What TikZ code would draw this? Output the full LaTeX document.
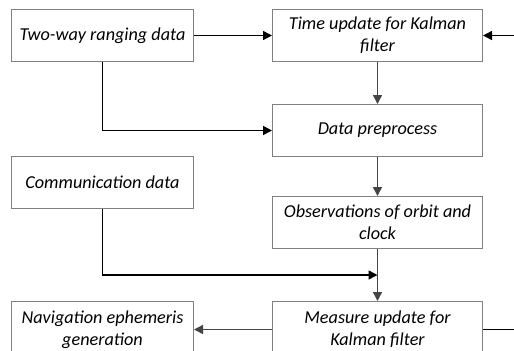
\documentclass[tikz,border=0pt]{standalone}
\usepackage{fontspec}
\setmainfont{Carlito}
\usepackage{tikz}
\usetikzlibrary{arrows.meta, positioning, calc}
\definecolor{boxgrey}{gray}{0.5}
\definecolor{flowgrey}{gray}{0.27}
\tikzstyle{block} = [rectangle, draw=boxgrey, line width=0.5pt, minimum height=26pt, inner sep=2pt, align=center, font=\itshape\fontsize{9.1}{11}\selectfont]
\tikzstyle{src} = [block, minimum width=91pt]
\tikzstyle{stage} = [block, minimum width=105pt]
\tikzstyle{aro} = [-{Triangle[length=4.5pt,width=4.5pt]}, line width=0.75pt]
\tikzstyle{garo} = [aro, draw=flowgrey, color=flowgrey]

\begin{document}
\begin{tikzpicture}
  \clip (0,0) rectangle (257pt,-175pt);
  \useasboundingbox (0,0) rectangle (257pt,-175pt);

  \node (twoway) [src, anchor=north west] at (5.5pt,-4.5pt) {Two-way ranging data};
  \node (tupd) [stage, right=39pt of twoway] {Time update for Kalman\\filter};
  \node (prep) [stage, below=21pt of tupd] {Data preprocess};
  \node (obs) [stage, below=19.5pt of prep] {Observations of orbit and\\clock};
  \node (mupd) [stage, below=26pt of obs, minimum height=28pt, anchor=north] {Measure update for\\Kalman filter};

  \node (comm) [src, below=47pt of twoway] {Communication data};
  \node (nav) [src, left=39pt of mupd, minimum height=28pt] {Navigation ephemeris\\generation};

  \coordinate (join) at ($(obs.south)!0.5!(mupd.north)$);

  % ranging data feeds both stages
  \draw [aro] (twoway) -- (tupd);
  \draw [aro] (twoway.south) |- (prep.west);
  \draw [aro] (comm.south) |- (join);

  % main chain
  \draw [garo] (tupd) -- (prep);
  \draw [garo] (prep) -- (obs);
  \draw [garo] (obs) -- (mupd);
  \draw [garo] (mupd) -- (nav);

  % loop back to the time update
  \draw [aro] (mupd.east) -- ++(20pt,0) |- (tupd.east);

\end{tikzpicture}
\end{document}
